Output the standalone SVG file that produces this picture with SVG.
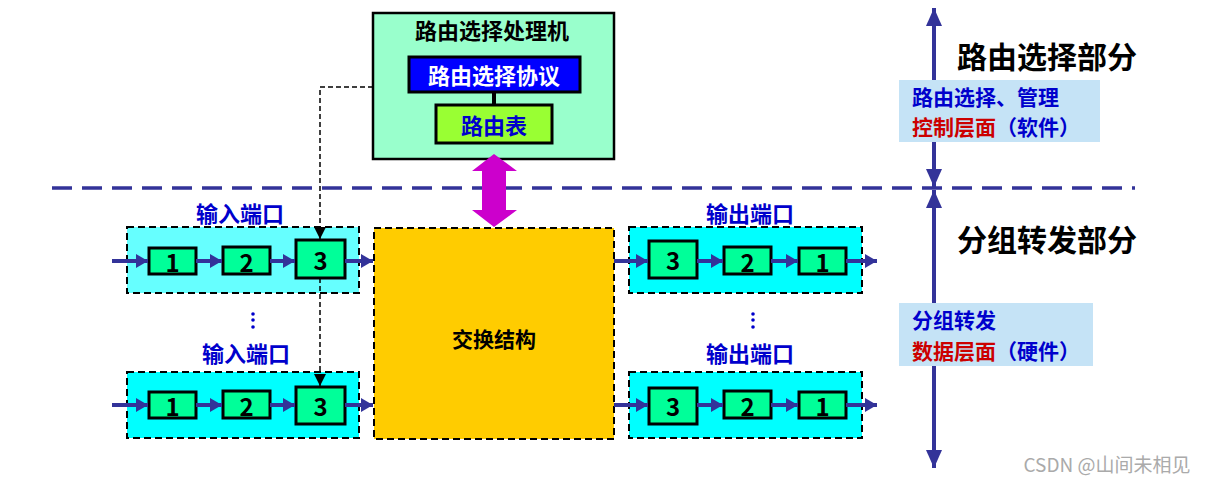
<svg xmlns="http://www.w3.org/2000/svg" width="1208" height="481" viewBox="0 0 1208 481">
<style>
text{font-family:"Noto Sans CJK SC","Liberation Sans",sans-serif;font-weight:bold;text-anchor:middle;dominant-baseline:central}
.port{stroke:#000;stroke-width:2;stroke-dasharray:7 4}
.q{fill:#00FF99;stroke:#000;stroke-width:3}
.num{font-size:24px;fill:#000}
.lbl{font-size:22px;fill:#0000CC}
.flow{stroke:#333399;stroke-width:4;fill:none;marker-end:url(#ah)}
.dots{fill:#0000CC}
</style>
<defs>
<marker id="ah" markerUnits="userSpaceOnUse" markerWidth="14" markerHeight="14" refX="12" refY="7" orient="auto">
<path d="M0,0 L12,7 L0,14 Z" fill="#333399"/>
</marker>
<marker id="vh" markerUnits="userSpaceOnUse" markerWidth="16" markerHeight="20" refX="18" refY="8" orient="auto-start-reverse">
<path d="M0,0 L18,8 L0,16 Z" fill="#333399"/>
</marker>
<marker id="dh" markerUnits="userSpaceOnUse" markerWidth="14" markerHeight="14" refX="12" refY="6" orient="auto">
<path d="M0,0 L12,6 L0,12 Z" fill="#000"/>
</marker>
</defs>
<rect width="1208" height="481" fill="#fff"/>

<g id="divider">
<line x1="52" y1="188" x2="1135" y2="188" stroke="#333399" stroke-width="3.5" stroke-dasharray="20 10"/>
</g>

<g id="side-axis">
<line x1="934" y1="8" x2="934" y2="187" stroke="#333399" stroke-width="4" marker-start="url(#vh)" marker-end="url(#vh)"/>
<line x1="934" y1="190" x2="934" y2="468" stroke="#333399" stroke-width="4" marker-start="url(#vh)" marker-end="url(#vh)"/>
</g>

<g id="routing-part-label"><text x="1047" y="55" font-size="30" fill="#000">路由选择部分</text></g>
<g id="forwarding-part-label"><text x="1047" y="238" font-size="30" fill="#000">分组转发部分</text></g>

<g id="control-plane">
<rect x="899" y="80" width="201" height="62" fill="#C5E3F6"/>
<text x="912" y="95.5" font-size="21" fill="#0000CC" style="text-anchor:start">路由选择、管理</text>
<text x="912" y="126" font-size="21" style="text-anchor:start"><tspan fill="#CC0000">控制层面</tspan><tspan fill="#0000CC">（软件）</tspan></text>
</g>

<g id="data-plane">
<rect x="899" y="303" width="194" height="63" fill="#C5E3F6"/>
<text x="912" y="319" font-size="21" fill="#0000CC" style="text-anchor:start">分组转发</text>
<text x="912" y="349.5" font-size="21" style="text-anchor:start"><tspan fill="#CC0000">数据层面</tspan><tspan fill="#0000CC">（硬件）</tspan></text>
</g>

<g id="routing-processor">
<rect x="373" y="13" width="241" height="146" fill="#99FFCC" stroke="#000" stroke-width="2.5"/>
<text x="492" y="29" font-size="22" fill="#000">路由选择处理机</text>
</g>
<g id="routing-protocol">
<rect x="409" y="57" width="171" height="35" fill="#0000FF" stroke="#000" stroke-width="3"/>
<text x="494" y="74" font-size="22" fill="#fff">路由选择协议</text>
</g>
<g id="routing-table">
<rect x="436" y="105" width="116" height="38" fill="#99FF33" stroke="#000" stroke-width="3"/>
<text x="494" y="124" font-size="22" fill="#0000CC">路由表</text>
</g>

<g id="switch-fabric">
<rect x="374" y="228" width="240" height="211" fill="#FFCC00" class="port"/>
<text x="494" y="338" font-size="21" fill="#000">交换结构</text>
</g>

<g id="input-port-1">
<text x="240" y="212" class="lbl">输入端口</text>
<rect x="127" y="227" width="232" height="66" fill="#66FFFF" class="port"/>
<g id="in1-q1"><rect x="149" y="248" width="47" height="26" class="q"/><text x="172.5" y="261" class="num">1</text></g>
<g id="in1-q2"><rect x="223" y="247" width="47" height="27" class="q"/><text x="246.5" y="261" class="num">2</text></g>
<g id="in1-q3"><rect x="296" y="240" width="49" height="38" class="q"/><text x="320.5" y="259" class="num">3</text></g>
</g>

<g id="input-port-2">
<circle cx="253" cy="314" r="1.8" class="dots"/><circle cx="253" cy="320" r="1.8" class="dots"/><circle cx="253" cy="327" r="1.8" class="dots"/>
<text x="246" y="352" class="lbl">输入端口</text>
<rect x="127" y="372" width="232" height="66" fill="#00FFFF" class="port"/>
<g id="in2-q1"><rect x="149" y="392" width="47" height="26" class="q"/><text x="172.5" y="405" class="num">1</text></g>
<g id="in2-q2"><rect x="223" y="391" width="47" height="27" class="q"/><text x="246.5" y="405" class="num">2</text></g>
<g id="in2-q3"><rect x="296" y="387" width="49" height="37" class="q"/><text x="320.5" y="405" class="num">3</text></g>
</g>

<g id="output-port-1">
<text x="750" y="212" class="lbl">输出端口</text>
<rect x="629" y="227" width="233" height="66" fill="#00FFFF" class="port"/>
<g id="out1-q3"><rect x="649" y="241" width="48" height="37" class="q"/><text x="673" y="259" class="num">3</text></g>
<g id="out1-q2"><rect x="724" y="247" width="47" height="27" class="q"/><text x="747.5" y="261" class="num">2</text></g>
<g id="out1-q1"><rect x="799" y="248" width="47" height="26" class="q"/><text x="822.5" y="261" class="num">1</text></g>
</g>

<g id="output-port-2">
<circle cx="753" cy="314" r="1.8" class="dots"/><circle cx="753" cy="320" r="1.8" class="dots"/><circle cx="753" cy="327" r="1.8" class="dots"/>
<text x="750" y="352" class="lbl">输出端口</text>
<rect x="629" y="372" width="233" height="66" fill="#00FFFF" class="port"/>
<g id="out2-q3"><rect x="649" y="388" width="48" height="36" class="q"/><text x="673" y="405" class="num">3</text></g>
<g id="out2-q2"><rect x="724" y="391" width="47" height="27" class="q"/><text x="747.5" y="405" class="num">2</text></g>
<g id="out2-q1"><rect x="799" y="392" width="47" height="26" class="q"/><text x="822.5" y="405" class="num">1</text></g>
</g>

<g id="connectors">
<line x1="494" y1="92" x2="494" y2="105" stroke="#000" stroke-width="4"/>
<path d="M472,171 L494,154 L517,171 L506,171 L506,210 L517,210 L494,227 L472,210 L482,210 L482,171 Z" fill="#CC00CC"/>
<path d="M373,87 L320,87 L320,239" fill="none" stroke="#000" stroke-width="1.5" stroke-dasharray="5 3" marker-end="url(#dh)"/>
<path d="M320,278 L320,386" fill="none" stroke="#000" stroke-width="1.5" stroke-dasharray="5 3" marker-end="url(#dh)"/>
<line x1="112" y1="261" x2="148" y2="261" class="flow"/>
<line x1="196" y1="261" x2="222" y2="261" class="flow"/>
<line x1="270" y1="261" x2="295" y2="261" class="flow"/>
<line x1="345" y1="261" x2="373" y2="261" class="flow"/>
<line x1="112" y1="405" x2="148" y2="405" class="flow"/>
<line x1="196" y1="405" x2="222" y2="405" class="flow"/>
<line x1="270" y1="405" x2="295" y2="405" class="flow"/>
<line x1="345" y1="405" x2="373" y2="405" class="flow"/>
<line x1="614" y1="261" x2="648" y2="261" class="flow"/>
<line x1="697" y1="261" x2="723" y2="261" class="flow"/>
<line x1="771" y1="261" x2="798" y2="261" class="flow"/>
<line x1="846" y1="261" x2="877" y2="261" class="flow"/>
<line x1="614" y1="405" x2="648" y2="405" class="flow"/>
<line x1="697" y1="405" x2="723" y2="405" class="flow"/>
<line x1="771" y1="405" x2="798" y2="405" class="flow"/>
<line x1="846" y1="405" x2="877" y2="405" class="flow"/>
</g>

<g id="watermark"><text x="1107" y="463" font-size="19" fill="#AAAAAA" style="font-weight:normal">CSDN @山间未相见</text></g>
</svg>
